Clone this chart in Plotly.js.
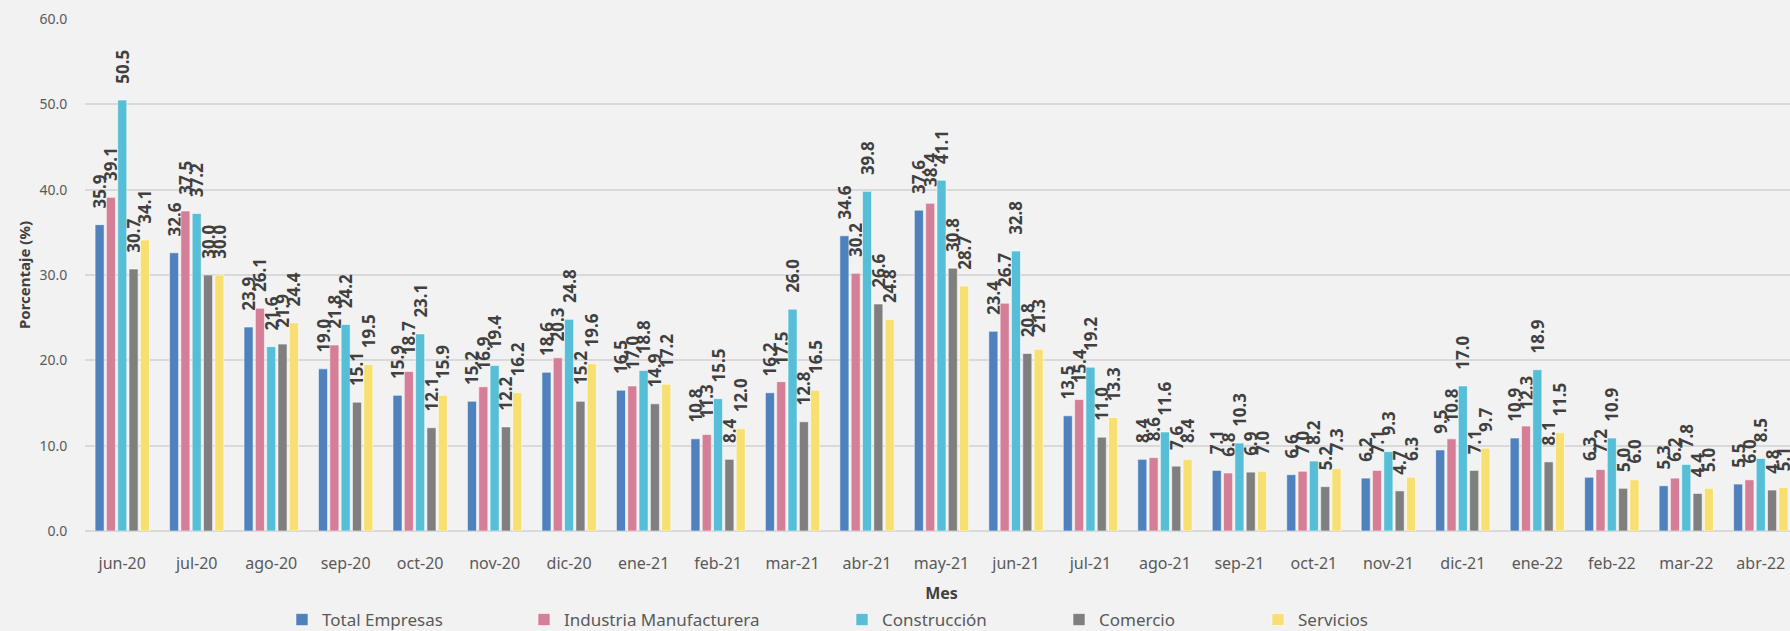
<!DOCTYPE html>
<html>
<head>
<meta charset="utf-8">
<script src="https://cdn.plot.ly/plotly-3.0.1.min.js"></script>
<style>
html,body{margin:0;padding:0;background:#F2F2F2;overflow:hidden;}
#chart{width:1800px;height:631px;}
</style>
</head>
<body>
<div id="chart"></div>
<script>
const months = ["jun-20","jul-20","ago-20","sep-20","oct-20","nov-20","dic-20","ene-21","feb-21","mar-21","abr-21","may-21","jun-21","jul-21","ago-21","sep-21","oct-21","nov-21","dic-21","ene-22","feb-22","mar-22","abr-22"];
const totalEmpresas = [35.9,32.6,23.9,19.0,15.9,15.2,18.6,16.5,10.8,16.2,34.6,37.6,23.4,13.5,8.4,7.1,6.6,6.2,9.5,10.9,6.3,5.3,5.5];
const industria     = [39.1,37.5,26.1,21.8,18.7,16.9,20.3,17.0,11.3,17.5,30.2,38.4,26.7,15.4,8.6,6.8,7.0,7.1,10.8,12.3,7.2,6.2,6.0];
const construccion  = [50.5,37.2,21.6,24.2,23.1,19.4,24.8,18.8,15.5,26.0,39.8,41.1,32.8,19.2,11.6,10.3,8.2,9.3,17.0,18.9,10.9,7.8,8.5];
const comercio      = [30.7,30.0,21.9,15.1,12.1,12.2,15.2,14.9,8.4,12.8,26.6,30.8,20.8,11.0,7.6,6.9,5.2,4.7,7.1,8.1,5.0,4.4,4.8];
const servicios     = [34.1,30.0,24.4,19.5,15.9,16.2,19.6,17.2,12.0,16.5,24.8,28.7,21.3,13.3,8.4,7.0,7.3,6.3,9.7,11.5,6.0,5.0,5.1];
const seriesNames = ["Total Empresas","Industria Manufacturera","Construcción","Comercio","Servicios"];
const yTicks = [0,10,20,30,40,50,60];

const series = [totalEmpresas, industria, construccion, comercio, servicios];
const colors = ["#4F81BD","#D57E97","#56BED6","#7F7F7F","#F7DF72"];
const legendIds = ["legend","legend2","legend3","legend4","legend5"];
const legendMarkerPx = [302,544,862,1079,1278];

const plotLeft = 85, plotWidth = 1713, plotHeight = 631 - 19 - 100;
const traces = series.map((vals,i)=>({
  type:'bar',
  name: seriesNames[i],
  x: months,
  y: vals,
  marker:{color:colors[i], line:{color:'rgba(255,255,255,0.55)', width:1}},
  texttemplate:'\u00A0\u00A0\u00A0%{y:.1f}',
  textposition:'outside',
  textangle:-90,
  constraintext:'none',
  cliponaxis:false,
  textfont:{family:'Noto Sans, Open Sans, sans-serif', size:17, color:'#404040', weight:'bold'},
  legend: legendIds[i],
  showlegend:true,
  hoverinfo:'x+y+name'
}));

const layout = {
  width:1800, height:631,
  showlegend:true,
  paper_bgcolor:'#F2F2F2', plot_bgcolor:'#F2F2F2',
  margin:{l:plotLeft, r:2, t:19, b:100, autoexpand:false},
  barmode:'group', bargap:0.24, bargroupgap:0.2,
  font:{family:'Noto Sans, Open Sans, sans-serif', color:'#595959'},
  xaxis:{
    type:'category',
    automargin:false,
    tickfont:{size:16, color:'#595959'},
    ticks:'outside', ticklen:18, tickcolor:'rgba(0,0,0,0)',
    showgrid:false, showline:false, zeroline:false,
    title:{text:'Mes', font:{size:16, color:'#404040', weight:'bold'}, standoff:14}
  },
  yaxis:{
    range:[0,60],
    automargin:false,
    tickvals:yTicks,
    tickformat:'.1f',
    tickfont:{size:14, color:'#595959'},
    ticks:'outside', ticklen:14, tickcolor:'rgba(0,0,0,0)',
    showgrid:true, gridcolor:'#D9D9D9', gridwidth:1.5,
    zeroline:true, zerolinecolor:'#D9D9D9', zerolinewidth:1.5,
    showline:false,
    title:{text:'Porcentaje (%)', font:{size:15, color:'#404040', weight:'bold'}, standoff:5}
  }
};
legendIds.forEach((id,i)=>{
  layout[id] = {
    visible:true,
    orientation:'h',
    x:(legendMarkerPx[i]-20-plotLeft)/plotWidth,
    xanchor:'left',
    y:-89/plotHeight, yanchor:'middle',
    bgcolor:'rgba(0,0,0,0)',
    font:{size:17, color:'#595959'},
    itemwidth:30
  };
});

Plotly.newPlot('chart', traces, layout, {displayModeBar:false});
</script>
</body>
</html>
